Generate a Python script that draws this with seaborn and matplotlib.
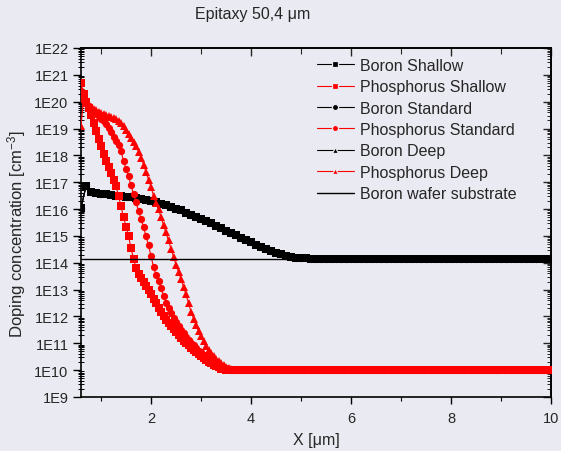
# %%
"""
Perfiles de dopado: epitaxia 50,4 um
"""

# %%
import matplotlib
matplotlib.use("Agg")

import numpy as np
import matplotlib.pyplot as plt
import seaborn as sns
from matplotlib.ticker import FuncFormatter, LogLocator, MultipleLocator, NullFormatter

# %%
# Profundidad [um]
p_depth = np.round(np.arange(0.60, 3.601, 0.05), 2)
p_tail_depth = np.round(np.arange(3.65, 10.001, 0.05), 2)
b_depth = np.round(np.arange(0.6, 5.201, 0.1), 2)
b_tail_depth = np.round(np.arange(5.3, 10.001, 0.1), 2)

# log10 de la concentracion [cm-3]
p_shallow = [20.70, 20.30, 20.00, 19.75, 19.50, 19.20, 18.90, 18.60, 18.35, 18.05,
             17.80, 17.55, 17.35, 17.10, 16.85, 16.50, 16.10, 15.70, 15.35, 15.00,
             14.55, 14.15, 13.80, 13.60, 13.45, 13.30, 13.15, 12.98, 12.82, 12.65,
             12.50, 12.33, 12.18, 12.02, 11.88, 11.76, 11.64, 11.52, 11.42, 11.31,
             11.20, 11.10, 11.01, 10.92, 10.83, 10.75, 10.67, 10.60, 10.53, 10.46,
             10.39, 10.32, 10.25, 10.19, 10.14, 10.10, 10.06, 10.04, 10.02, 10.01,
             10.00]
p_standard = [20.40, 20.15, 19.98, 19.85, 19.74, 19.64, 19.55, 19.45, 19.37, 19.27,
              19.16, 19.02, 18.86, 18.70, 18.55, 18.38, 18.15, 17.80, 17.50, 17.22,
              16.88, 16.56, 16.25, 15.93, 15.64, 15.33, 14.99, 14.65, 14.25, 13.85,
              13.55, 13.32, 13.05, 12.78, 12.52, 12.32, 12.13, 11.95, 11.80, 11.64,
              11.49, 11.37, 11.25, 11.13, 11.02, 10.92, 10.82, 10.73, 10.66, 10.58,
              10.51, 10.45, 10.38, 10.32, 10.26, 10.20, 10.15, 10.10, 10.07, 10.03,
              10.00]
p_deep = [19.10, 20.10, 19.95, 19.86, 19.79, 19.73, 19.68, 19.63, 19.59, 19.55,
          19.51, 19.47, 19.43, 19.39, 19.34, 19.28, 19.20, 19.08, 18.94, 18.79,
          18.63, 18.48, 18.34, 18.14, 17.92, 17.66, 17.38, 17.10, 16.82, 16.50,
          16.22, 15.99, 15.70, 15.42, 15.13, 14.83, 14.53, 14.22, 13.93, 13.66,
          13.39, 13.10, 12.82, 12.50, 12.18, 11.92, 11.67, 11.45, 11.26, 11.08,
          10.90, 10.76, 10.64, 10.52, 10.42, 10.33, 10.26, 10.19, 10.13, 10.09,
          10.04]
boron = [16.05, 16.85, 16.65, 16.60, 16.57, 16.55, 16.53, 16.50, 16.48, 16.46,
         16.44, 16.41, 16.38, 16.34, 16.30, 16.25, 16.20, 16.15, 16.09, 16.02,
         15.95, 15.87, 15.79, 15.71, 15.63, 15.55, 15.47, 15.38, 15.29, 15.20,
         15.11, 15.02, 14.93, 14.84, 14.76, 14.67, 14.59, 14.51, 14.44, 14.37,
         14.31, 14.26, 14.22, 14.19, 14.17, 14.16, 14.15]
p_floor = 10.0
b_floor = 14.15

wafer_x = [0.6, 10.0]
wafer_level = 1.35e14

bg = "#EAEAF2"

# %%
sns.set_theme(style="white", rc={"axes.facecolor": bg, "figure.facecolor": bg})
plt.rcParams["font.family"] = ["Liberation Sans", "DejaVu Sans"]
plt.rcParams["mathtext.fontset"] = "custom"
plt.rcParams["mathtext.rm"] = "Liberation Sans"
plt.rcParams["mathtext.default"] = "regular"

fig = plt.figure(figsize=(5.61, 4.52), dpi=100)
ax = fig.add_axes([81 / 561, 1 - 398 / 452, 470 / 561, 349 / 452])


def full_profile(depth, values, tail_depth, floor):
    x = np.concatenate([depth, tail_depth])
    y = np.concatenate([10 ** np.array(values), np.full(len(tail_depth), 10 ** floor)])
    return x, y


series = [
    ("Boron Shallow", b_depth, boron, b_tail_depth, b_floor, "black", "s", 2),
    ("Phosphorus Shallow", p_depth, p_shallow, p_tail_depth, p_floor, "red", "s", 3),
    ("Boron Standard", b_depth, boron, b_tail_depth, b_floor, "black", "o", 2),
    ("Phosphorus Standard", p_depth, p_standard, p_tail_depth, p_floor, "red", "o", 3),
    ("Boron Deep", b_depth, boron, b_tail_depth, b_floor, "black", "^", 2),
    ("Phosphorus Deep", p_depth, p_deep, p_tail_depth, p_floor, "red", "^", 3),
]

for name, depth, values, tail, floor, color, mk, z in series:
    x, y = full_profile(depth, values, tail, floor)
    sns.lineplot(x=x, y=y, ax=ax, color=color, marker=mk, markersize=5.2,
                 markeredgewidth=0, linewidth=0.8, label=name, zorder=z)

sns.lineplot(x=wafer_x, y=[wafer_level, wafer_level], ax=ax, color="black",
             linewidth=1.0, label="Boron wafer substrate", zorder=4)

ax.set_yscale("log")
ax.set_xlim(0.6, 10)
ax.set_ylim(1e9, 1e22)

ax.yaxis.set_major_locator(LogLocator(base=10, numticks=20))
ax.yaxis.set_minor_locator(LogLocator(base=10, subs=np.arange(2, 10), numticks=20))
ax.yaxis.set_minor_formatter(NullFormatter())
ax.yaxis.set_major_formatter(FuncFormatter(lambda v, pos: "1E%d" % round(np.log10(v))))
ax.xaxis.set_major_locator(MultipleLocator(2))
ax.xaxis.set_minor_locator(MultipleLocator(1))

ax.tick_params(axis="both", which="both", color="black", labelsize=10.5,
               left=True, bottom=True, right=False, top=False)
ax.tick_params(axis="y", which="major", direction="out", length=6, width=1, pad=3)
ax.tick_params(axis="y", which="minor", direction="inout", length=5, width=0.7)
ax.tick_params(axis="x", which="major", direction="out", length=5, width=1, pad=5)
ax.tick_params(axis="x", which="minor", direction="out", length=3, width=0.8)

# ejes secundarios para los ticks interiores (arriba y derecha)
top = ax.secondary_xaxis("top")
top.xaxis.set_major_locator(MultipleLocator(2))
top.xaxis.set_minor_locator(MultipleLocator(1))
top.tick_params(which="major", direction="in", length=6, width=1, labeltop=False)
top.tick_params(which="minor", direction="in", length=4, width=0.8)

right = ax.secondary_yaxis("right")
right.yaxis.set_major_locator(LogLocator(base=10, numticks=20))
right.yaxis.set_minor_locator(LogLocator(base=10, subs=np.arange(2, 10), numticks=20))
right.yaxis.set_minor_formatter(NullFormatter())
right.tick_params(which="major", direction="in", length=6, width=1, labelright=False)
right.tick_params(which="minor", direction="in", length=3, width=0.7)

for s in list(ax.spines.values()) + [top.spines["top"], right.spines["right"]]:
    s.set_color("black")
    s.set_linewidth(1.2)

ax.set_xlabel("X [\u03bcm]", fontsize=11.5)
ax.xaxis.set_label_coords(0.5, -0.1)
ax.set_ylabel("Doping concentration [cm$^{-3}$]", fontsize=12)
ax.yaxis.set_label_coords(-0.112, 0.47)
fig.text(253 / 561, 1 - 19 / 452, "Epitaxy 50,4 \u03bcm", ha="center",
         va="baseline", fontsize=11.5)

leg = ax.legend(loc="upper left", bbox_to_anchor=(0.502, 0.972), frameon=False,
                fontsize=11.5, handlelength=2.3, handletextpad=0.4,
                labelspacing=0.4, borderpad=0, borderaxespad=0, markerscale=0.85)
for h in leg.legend_handles:
    h.set_markeredgecolor(bg)
    h.set_markeredgewidth(0.9)

fig.savefig("out.png", dpi=100, facecolor=bg)
